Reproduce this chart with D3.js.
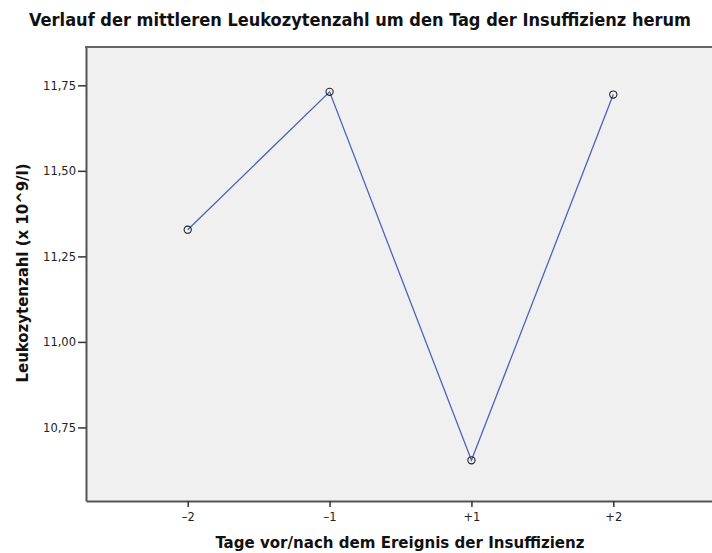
<!DOCTYPE html>
<html>
<head>
<meta charset="utf-8">
<script src="https://cdn.jsdelivr.net/npm/d3@7"></script>
<style>
  body { margin: 0; background: #fff; }
  text { font-family: "DejaVu Sans", "Open Sans", sans-serif; }
  .label { font-family: "DejaVu Sans Condensed", "DejaVu Sans", sans-serif; font-weight: bold; fill: #111; }
</style>
</head>
<body>
<script>
const WIDTH = 712;
const HEIGHT = 553;
const PLOT_LEFT = 86;
const PLOT_RIGHT = 715;
const PLOT_TOP = 47;
const PLOT_BOTTOM = 501;

const days = ["-2", "-1", "+1", "+2"];
const meanLeukocytes = [11.328, 11.731, 10.654, 11.723];
const yTicks = [10.75, 11.00, 11.25, 11.50, 11.75];

const svg = d3.select("body").append("svg")
  .attr("width", WIDTH)
  .attr("height", HEIGHT);

const x = d3.scalePoint()
  .domain(days)
  .range([PLOT_LEFT, PLOT_RIGHT])
  .padding(0.717);

const y = d3.scaleLinear()
  .domain([10.535, 11.862])
  .range([PLOT_BOTTOM, PLOT_TOP]);

// plot background
svg.append("rect")
  .attr("x", PLOT_LEFT)
  .attr("y", PLOT_TOP)
  .attr("width", PLOT_RIGHT - PLOT_LEFT)
  .attr("height", PLOT_BOTTOM - PLOT_TOP)
  .style("fill", "#f0f0f0");

const fmt = d => d3.format(".2f")(d).replace(".", ",");

const yAxis = svg.append("g")
  .attr("transform", `translate(${PLOT_LEFT},0)`)
  .call(d3.axisLeft(y).tickValues(yTicks).tickFormat(fmt)
    .tickSizeInner(8).tickSizeOuter(0).tickPadding(2));
yAxis.select(".domain").attr("stroke", "#555").attr("stroke-width", 2);
yAxis.selectAll(".tick line").attr("stroke", "#333").attr("stroke-width", 1.5);
yAxis.selectAll(".tick text").style("font-size", "11.5px").style("fill", "#222");

const xAxis = svg.append("g")
  .attr("transform", `translate(0,${PLOT_BOTTOM})`)
  .call(d3.axisBottom(x).tickSizeInner(6).tickSizeOuter(0).tickPadding(6)
    .tickFormat(d => d.replace("-", "\u2013")));
xAxis.select(".domain").attr("stroke", "#555").attr("stroke-width", 2);
xAxis.selectAll(".tick line").attr("stroke", "#333").attr("stroke-width", 1.5);
xAxis.selectAll(".tick text").style("font-size", "11.5px").style("fill", "#222");

// top border
svg.append("line")
  .attr("x1", PLOT_LEFT - 1).attr("x2", PLOT_RIGHT)
  .attr("y1", PLOT_TOP).attr("y2", PLOT_TOP)
  .attr("stroke", "#666").attr("stroke-width", 2);

const line = d3.line()
  .x((d, i) => x(days[i]))
  .y(d => y(d));

svg.append("path")
  .datum(meanLeukocytes)
  .attr("d", line)
  .attr("fill", "none")
  .attr("stroke", "#4a64bf")
  .attr("stroke-width", 1.3);

svg.selectAll("circle.marker")
  .data(meanLeukocytes)
  .enter().append("circle")
  .attr("class", "marker")
  .attr("cx", (d, i) => x(days[i]))
  .attr("cy", d => y(d))
  .attr("r", 3.6)
  .attr("fill", "none")
  .attr("stroke", "#222")
  .attr("stroke-width", 1.1);

svg.append("text")
  .attr("class", "label")
  .attr("x", 360)
  .attr("y", 26)
  .attr("text-anchor", "middle")
  .attr("textLength", 662)
  .attr("lengthAdjust", "spacingAndGlyphs")
  .style("font-size", "17px")
  .text("Verlauf der mittleren Leukozytenzahl um den Tag der Insuffizienz herum");

svg.append("text")
  .attr("class", "label")
  .attr("x", 400)
  .attr("y", 548)
  .attr("text-anchor", "middle")
  .attr("textLength", 369)
  .attr("lengthAdjust", "spacingAndGlyphs")
  .style("font-size", "15px")
  .text("Tage vor/nach dem Ereignis der Insuffizienz");

svg.append("text")
  .attr("class", "label")
  .attr("transform", `translate(28,273) rotate(-90)`)
  .attr("text-anchor", "middle")
  .attr("textLength", 219)
  .attr("lengthAdjust", "spacingAndGlyphs")
  .style("font-size", "15px")
  .text("Leukozytenzahl (x 10^9/l)");
</script>
</body>
</html>
